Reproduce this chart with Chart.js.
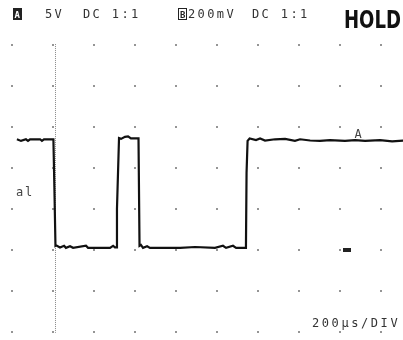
<!DOCTYPE html>
<html>
<head>
<meta charset="utf-8">
<script src="https://cdn.jsdelivr.net/npm/chart.js@4"></script>
<style>
  body { margin: 0; background: #fff; }
  canvas { display: block; }
</style>
</head>
<body>
<canvas id="scopeChart" width="403" height="340"></canvas>
<script>
// Channel A trace, time in microseconds, level in volts
const timeUs = [
  24, 44, 68, 78, 88, 137, 146, 156, 202, 207, 212,
  215, 234, 254, 263, 283, 298, 361, 371, 429, 478, 493, 502, 510,
  512, 522, 532, 551, 566, 580, 617,
  622, 629, 639, 659, 673, 722, 771, 820, 893, 990, 1029, 1044, 1078, 1093, 1141,
  1144, 1149, 1159, 1190, 1210, 1234, 1283, 1332, 1380, 1405, 1454, 1502,
  1551, 1624, 1673, 1722, 1795, 1854, 1910
];
const chA = [
  8.5, 8.3, 8.5, 8.3, 8.5, 8.5, 8.3, 8.5, 8.5, 2.3, -4.5,
  -4.45, -4.7, -4.5, -4.75, -4.55, -4.75, -4.5, -4.75, -4.75, -4.75, -4.5, -4.7, -4.7,
  0.0, 8.65, 8.55, 8.8, 8.85, 8.6, 8.6,
  -4.5, -4.4, -4.75, -4.55, -4.75, -4.75, -4.75, -4.75, -4.65, -4.75, -4.5, -4.75, -4.5, -4.75, -4.75,
  4.4, 8.3, 8.6, 8.4, 8.6, 8.35, 8.5, 8.55, 8.3, 8.5, 8.35, 8.3,
  8.4, 8.3, 8.4, 8.3, 8.4, 8.25, 8.35
];

// Screen settings
const usPerDiv = 200;
const voltsPerDiv = 5;
const xGridRange = [0, 1800];
const yGridRange = [-15, 20];
const triggerUs = 210;
const groundA = 1.95;          // "al" marker level
const markerA = { t: 1690, v: 9.2 };
const markerB = { t: 1632, v: -5.0 };

const headerItems = [
  { text: '5V', x: 45 },
  { text: 'DC 1:1', x: 83 },
  { text: '200mV', x: 188 },
  { text: 'DC 1:1', x: 252 }
];

const monoFont = '12px "DejaVu Sans Mono"';

// Draw a string with a fixed character pitch, like the scope's LCD font
function drawPitched(ctx, text, x, y, pitch) {
  for (let i = 0; i < text.length; i++) {
    ctx.fillText(text[i], x + i * pitch, y);
  }
}

const scopeScreen = {
  id: 'scopeScreen',
  beforeDraw(chart) {
    const ctx = chart.ctx;
    ctx.save();
    ctx.fillStyle = '#fff';
    ctx.fillRect(0, 0, chart.width, chart.height);
    ctx.restore();
  },
  beforeDatasetsDraw(chart) {
    const ctx = chart.ctx;
    const xs = chart.scales.x, ys = chart.scales.y;
    ctx.save();
    // graticule dots, one per division crossing
    ctx.fillStyle = '#444';
    for (let t = xGridRange[0]; t <= xGridRange[1]; t += usPerDiv) {
      for (let v = yGridRange[0]; v <= yGridRange[1]; v += voltsPerDiv) {
        const px = Math.round(xs.getPixelForValue(t));
        const py = Math.round(ys.getPixelForValue(v));
        ctx.fillRect(px - 0.75, py - 0.75, 1.5, 1.5);
      }
    }
    // trigger position line
    const tx = Math.round(xs.getPixelForValue(triggerUs)) + 0.5;
    ctx.strokeStyle = '#8a8a8a';
    ctx.lineWidth = 1;
    ctx.setLineDash([1, 1]);
    ctx.beginPath();
    ctx.moveTo(tx, ys.getPixelForValue(yGridRange[1]) - 1);
    ctx.lineTo(tx, ys.getPixelForValue(yGridRange[0]) + 1);
    ctx.stroke();
    ctx.restore();
  },
  afterDraw(chart) {
    const ctx = chart.ctx;
    const xs = chart.scales.x, ys = chart.scales.y;
    ctx.save();
    ctx.fillStyle = '#333';
    ctx.font = monoFont;
    ctx.textBaseline = 'alphabetic';

    // header
    headerItems.forEach(item => drawPitched(ctx, item.text, item.x, 18, 9.6));

    // channel A badge (filled)
    ctx.fillStyle = '#222';
    ctx.fillRect(13, 8, 9, 12);
    ctx.fillStyle = '#fff';
    ctx.font = 'bold 9px "DejaVu Sans Mono"';
    ctx.fillText('A', 14.5, 17.5);

    // channel B badge (outlined)
    ctx.strokeStyle = '#222';
    ctx.lineWidth = 1;
    ctx.strokeRect(178.5, 8.5, 8, 11);
    ctx.fillStyle = '#222';
    ctx.fillText('B', 180, 17.5);

    // HOLD
    ctx.fillStyle = '#111';
    ctx.font = 'bold 25px "DejaVu Sans"';
    ctx.fillText('HOLD', 344, 28, 57);

    // ground marker and channel tag
    ctx.fillStyle = '#444';
    ctx.font = monoFont;
    ctx.textBaseline = 'middle';
    drawPitched(ctx, 'al', 16, ys.getPixelForValue(groundA), 9);
    ctx.textBaseline = 'alphabetic';
    ctx.fillText('A', xs.getPixelForValue(markerA.t) - 4, ys.getPixelForValue(markerA.v) + 4);

    // channel B marker block
    ctx.fillStyle = '#222';
    ctx.fillRect(Math.round(xs.getPixelForValue(markerB.t)) - 4, Math.round(ys.getPixelForValue(markerB.v)) - 2, 8, 4);

    // timebase
    ctx.fillStyle = '#333';
    drawPitched(ctx, usPerDiv + 'µs/DIV', 312, 327, 9.8);
    ctx.restore();
  }
};

const points = timeUs.map((t, i) => ({ x: t, y: chA[i] }));

new Chart(document.getElementById('scopeChart').getContext('2d'), {
  type: 'line',
  data: {
    datasets: [{
      data: points,
      borderColor: '#111',
      borderWidth: 2.2,
      pointRadius: 0,
      tension: 0,
      fill: false
    }]
  },
  options: {
    responsive: false,
    animation: false,
    layout: { padding: 0 },
    plugins: { legend: { display: false }, tooltip: { enabled: false } },
    scales: {
      x: { type: 'linear', display: false, min: -58.5, max: 1907 },
      y: { type: 'linear', display: false, min: -16, max: 25.5 }
    }
  },
  plugins: [scopeScreen]
});
</script>
</body>
</html>
